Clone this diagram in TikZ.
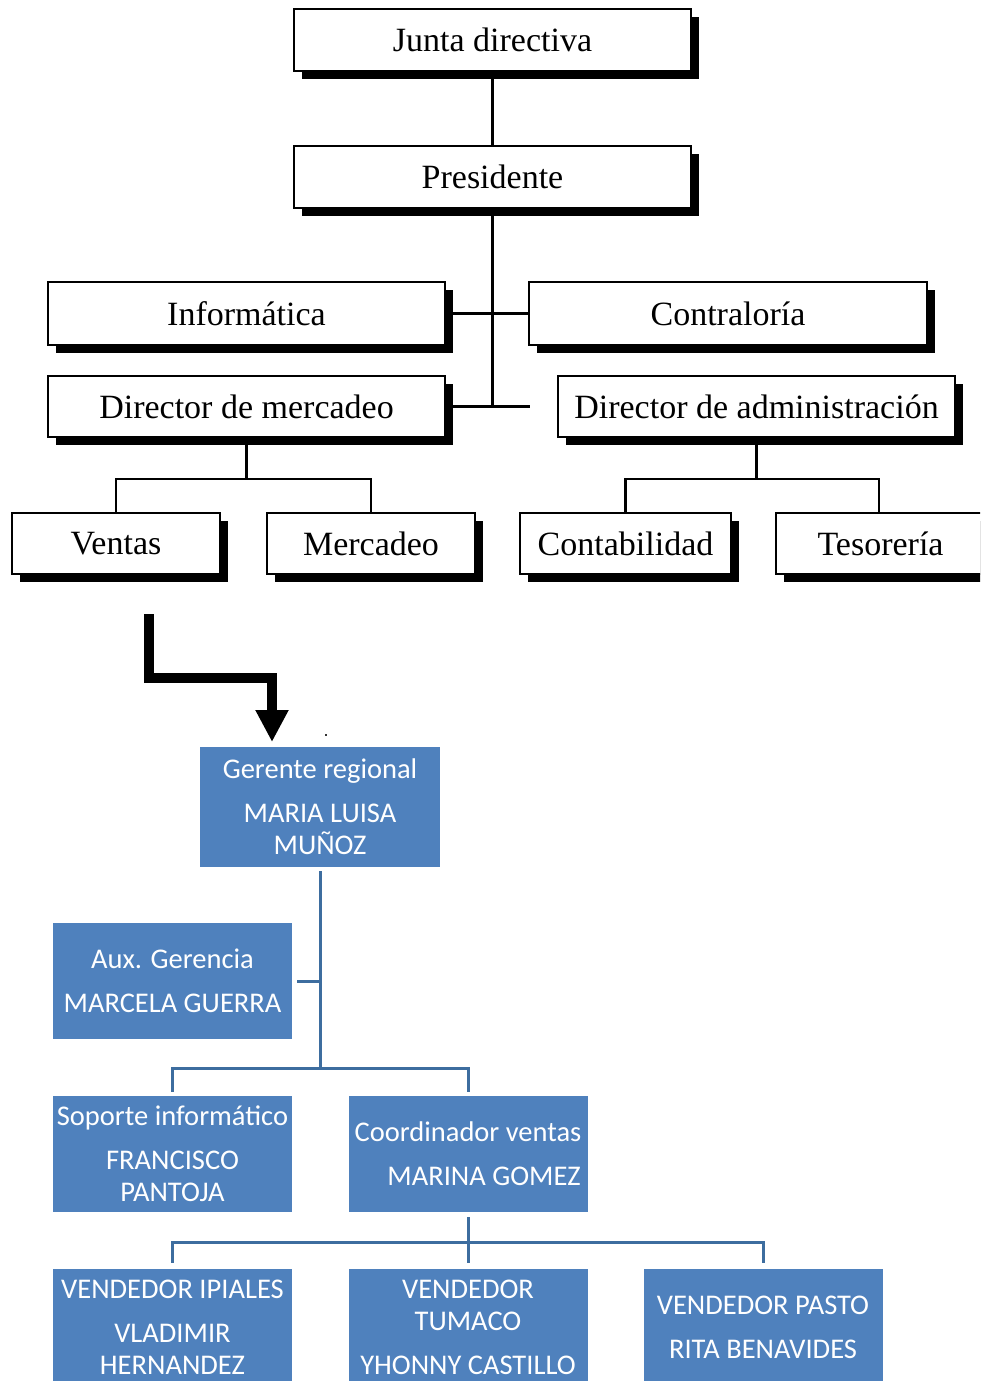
\documentclass[tikz,border=0pt]{standalone}
\usepackage{fontspec}
\setmainfont{Liberation Serif}
\newfontfamily\bluefont{Carlito}
\usetikzlibrary{arrows.meta,shadows}
\definecolor{boxblue}{HTML}{4F81BD}
\definecolor{lineblue}{HTML}{3D6D9F}
\begin{document}
\begin{tikzpicture}[x=1pt,y=-1pt,
  orgbox/.style={draw=black, line width=2.6pt, fill=white, inner sep=0pt,
    font=\fontsize{34}{40}\selectfont,
    general shadow={fill=black, shadow xshift=8pt, shadow yshift=-8pt}},
  bluebox/.style={fill=boxblue, text=white, inner sep=0pt, align=center,
    minimum width=239pt, minimum height=116pt,
    font=\bluefont\fontsize{28.5}{32}\selectfont},
  orgline/.style={line width=2.6pt, draw=black},
  blueline/.style={line width=3pt, draw=lineblue}]
\useasboundingbox (0,0) rectangle (980,1381);
\clip (0,0) rectangle (980,1381);

% ---- upper chart ----
\node[orgbox, minimum width=397pt, minimum height=62pt] (junta) at (492.5,40) {Junta directiva};
\node[orgbox, minimum width=397pt, minimum height=62pt] (pres) at (492.5,177) {Presidente};
\node[orgbox, minimum width=397pt, minimum height=63pt] (info) at (246.5,313.5) {Informática};
\node[orgbox, minimum width=398pt, minimum height=63pt] (contra) at (728,313.5) {Contraloría};
\node[orgbox, minimum width=397pt, minimum height=61pt] (dmerc) at (246.5,406.5) {Director de mercadeo};
\node[orgbox, minimum width=397pt, minimum height=61pt] (dadm) at (756.5,406.5) {Director de administración};
\node[orgbox, minimum width=208pt, minimum height=61pt] (ventas) at (116,543.5) {Ventas};
\node[orgbox, minimum width=208pt, minimum height=61pt] (merc) at (371,543.5) {Mercadeo};
\node[orgbox, minimum width=211pt, minimum height=61pt] (conta) at (625.5,543.5) {Contabilidad};
\node[orgbox, minimum width=230pt, minimum height=61pt] (teso) at (891,543.5) {Tesorería\hspace*{21pt}};

\coordinate (adstub) at (530,406.5);
\coordinate (mbus) at (246.5,479);
\coordinate (abus) at (756.5,479);

\draw[orgline] (junta) -- (pres);
\draw[orgline] (pres.south) -- (pres.south |- dmerc.east);
\draw[orgline] (info.east) -- (contra.west);
\draw[orgline] (dmerc.east) -- (adstub);
\draw[orgline] (dmerc.south) -- (mbus);
\draw[orgline] (ventas.north) |- (mbus) -| (merc.north);
\draw[orgline] (dadm.south) -- (abus);
\coordinate (tesotop) at (879,513);
\draw[orgline] (conta.north) |- (abus) -| (tesotop);

% ---- arrow ----
\coordinate (arrstart) at (149,614);
\coordinate (arrknee) at (149,678);
\coordinate (arrtip) at (272,742);
\draw[line width=10pt, line join=miter, -{Triangle[width=31pt,length=32pt]}]
  (arrstart) -- (arrknee) -| (arrtip);
\fill[black!80] (325,734) rectangle (327,736);

% ---- lower chart ----
\node[bluebox, minimum width=240pt, minimum height=120pt] (ger) at (320,807)
  {Gerente regional\\[12pt]MARIA LUISA\\MUÑOZ};
\node[bluebox] (aux) at (172.5,981) {Aux. Gerencia\\[12pt]MARCELA GUERRA};
\node[bluebox] (sop) at (172.5,1154) {Soporte informático\\[12pt]FRANCISCO\\PANTOJA};
\node[bluebox] (coord) at (468,1154) {Coordinador ventas\\[12pt]\hspace*{32pt}MARINA GOMEZ};
\node[bluebox] (vip) at (172.5,1327) {VENDEDOR IPIALES\\[12pt]VLADIMIR\\HERNANDEZ};
\node[bluebox] (vtu) at (468,1327) {VENDEDOR\\TUMACO\\[12pt]YHONNY CASTILLO};
\node[bluebox] (vpa) at (763,1327) {VENDEDOR PASTO\\[12pt]RITA BENAVIDES};

\coordinate (gbus) at (320,1068);
\coordinate (cbus) at (468,1242);

\draw[blueline, shorten <=4pt] (ger.south) -- (gbus);
\draw[blueline, shorten <=5pt] (aux.east) -- (aux.east -| ger.south);
\draw[blueline, shorten <=4pt, shorten >=4pt] (sop.north) |- (gbus) -| (coord.north);
\draw[blueline, shorten <=5pt] (coord.south) -- (cbus);
\draw[blueline, shorten <=6pt, shorten >=6pt] (vip.north) |- (cbus) -| (vpa.north);
\draw[blueline, shorten >=6pt] (cbus) -- (vtu.north);
\end{tikzpicture}
\end{document}
